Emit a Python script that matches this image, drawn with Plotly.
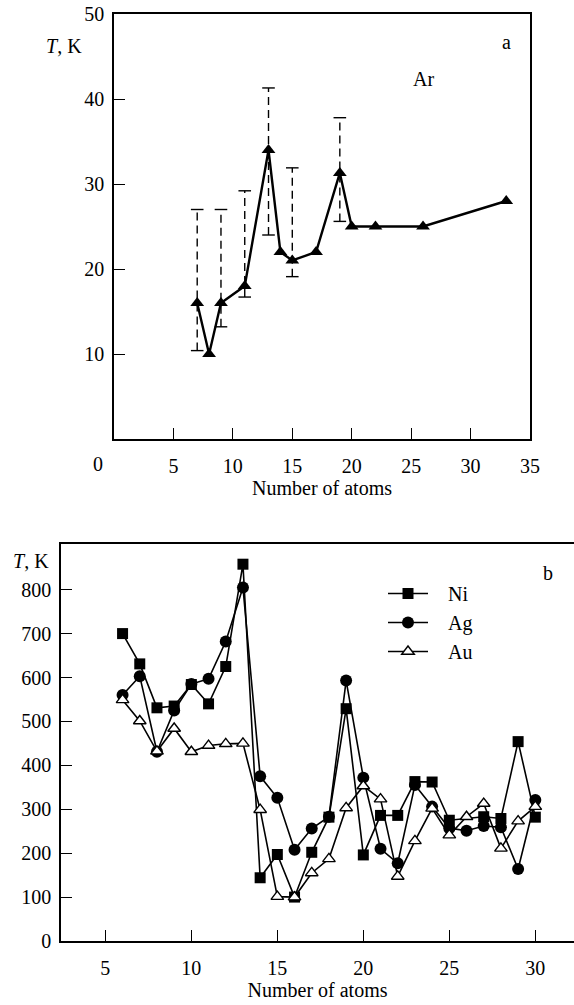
import plotly.graph_objects as go

# ---- Panel a: Ar ----
ar_n = [7, 8, 9, 11, 13, 14, 15, 17, 19, 20, 22, 26, 33]
ar_T = [16, 10, 16, 18, 34, 22, 21, 22, 31.3, 25, 25, 25, 28]
err_n = [7, 9, 11, 13, 15, 19]
err_lo = [10.4, 13.2, 16.7, 24.0, 19.1, 25.6]
err_hi = [27.0, 27.0, 29.2, 41.3, 31.9, 37.8]

# ---- Panel b: Ni, Ag, Au ----
ni_n = [6, 7, 8, 9, 10, 11, 12, 13, 14, 15, 16, 17, 18, 19, 20, 21, 22, 23, 24, 25, 27, 28, 29, 30]
ni_T = [700, 631, 531, 535, 584, 540, 625, 858, 144, 197, 100, 202, 282, 529, 196, 286, 286, 363, 362, 275, 283, 279, 454, 282]
ag_n = [6, 7, 8, 9, 10, 11, 12, 13, 14, 15, 16, 17, 18, 19, 20, 21, 22, 23, 24, 25, 26, 27, 28, 29, 30]
ag_T = [560, 603, 431, 525, 585, 597, 682, 805, 375, 326, 208, 256, 283, 593, 372, 210, 177, 355, 306, 257, 251, 262, 259, 164, 321]
au_n = [6, 7, 8, 9, 10, 11, 12, 13, 14, 15, 16, 17, 18, 19, 20, 21, 22, 23, 24, 25, 26, 27, 28, 29, 30]
au_T = [549, 501, 432, 484, 431, 445, 449, 450, 299, 101, 100, 155, 187, 303, 353, 323, 147, 228, 302, 241, 283, 313, 211, 273, 306]

FONT = "Liberation Serif"
W, H = 574, 1005
PAD = "\u00a0\u00a0\u00a0"

fig = go.Figure()

# error bars (dashed) for panel a
ex, ey = [], []
for n, lo, hi in zip(err_n, err_lo, err_hi):
    ex += [n, n, None]
    ey += [lo, hi, None]
fig.add_trace(go.Scatter(x=ex, y=ey, mode="lines", xaxis="x", yaxis="y",
                         line=dict(color="black", width=1.4, dash="8px,5px"),
                         showlegend=False, hoverinfo="skip"))
fig.add_trace(go.Scatter(x=err_n + err_n, y=err_lo + err_hi, mode="markers", xaxis="x", yaxis="y",
                         marker=dict(symbol="line-ew", size=9, color="black",
                                     line=dict(color="black", width=1.4)),
                         showlegend=False, hoverinfo="skip"))
fig.add_trace(go.Scatter(x=ar_n, y=ar_T, mode="lines+markers", xaxis="x", yaxis="y",
                         line=dict(color="black", width=2.4),
                         marker=dict(symbol="triangle-up", size=12, color="black"),
                         showlegend=False))

# panel b
fig.add_trace(go.Scatter(x=ni_n, y=ni_T, name=PAD + "Ni", mode="lines+markers", xaxis="x2", yaxis="y2",
                         line=dict(color="black", width=1.6),
                         marker=dict(symbol="square", size=11, color="black")))
fig.add_trace(go.Scatter(x=ag_n, y=ag_T, name=PAD + "Ag", mode="lines+markers", xaxis="x2", yaxis="y2",
                         line=dict(color="black", width=1.6),
                         marker=dict(symbol="circle", size=12, color="black")))
fig.add_trace(go.Scatter(x=au_n, y=au_T, name=PAD + "Au", mode="lines+markers", xaxis="x2", yaxis="y2",
                         line=dict(color="black", width=1.6),
                         marker=dict(symbol="triangle-up", size=11, color="white",
                                     line=dict(color="black", width=1.4))))

tickfont = dict(family=FONT, size=20, color="black")
common = dict(showgrid=False, zeroline=False, showline=True, linecolor="black", linewidth=1.5,
              ticks="inside", ticklen=11, tickwidth=1.4, tickcolor="black", tickfont=tickfont,
              automargin=False)
xcommon = dict(ticklabelstandoff=8, **common)
ycommon = dict(ticklabelstandoff=4, **common)

fig.update_layout(
    width=W, height=H, margin=dict(l=0, r=0, t=0, b=0),
    paper_bgcolor="white", plot_bgcolor="white",
    font=dict(family=FONT, color="black"),
    xaxis=dict(domain=[114 / W, 530 / W], range=[0, 35], tickvals=[5, 10, 15, 20, 25, 30, 35],
               mirror=True, anchor="y",
               title=dict(text="Number of atoms", font=dict(family=FONT, size=20), standoff=3),
               **xcommon),
    yaxis=dict(domain=[1 - 439 / H, 1 - 14 / H], range=[0, 50], tickvals=[10, 20, 30, 40, 50],
               mirror=True, anchor="x", **ycommon),
    xaxis2=dict(domain=[61 / W, 1.0], range=[2.42, 32.25], tickvals=[5, 10, 15, 20, 25, 30],
                mirror=True, anchor="y2",
                title=dict(text="Number of atoms", font=dict(family=FONT, size=20), standoff=3),
                **xcommon),
    yaxis2=dict(domain=[1 - 941 / H, 1 - 544 / H], range=[0, 904],
                tickvals=[0, 100, 200, 300, 400, 500, 600, 700, 800],
                mirror=False, anchor="x2", **ycommon),
    legend=dict(x=383 / W, y=1 - 574 / H, xanchor="left", yanchor="top",
                bgcolor="rgba(0,0,0,0)", font=dict(family=FONT, size=20, color="black"),
                itemwidth=40, tracegroupgap=4),
    showlegend=True,
)

ann = [
    dict(text="0", x=98, y=464),
    dict(text="<i>T</i>, K", x=64, y=46),
    dict(text="a", x=506, y=42),
    dict(text="Ar", x=423, y=79),
    dict(text="<i>T</i>, K", x=31, y=561),
    dict(text="b", x=548, y=573),
]
for a in ann:
    fig.add_annotation(text=a["text"], x=a["x"] / W, y=1 - a["y"] / H, xref="paper", yref="paper",
                       xanchor="center", yanchor="middle", showarrow=False,
                       font=dict(family=FONT, size=20, color="black"))

fig.write_html("out.html")
